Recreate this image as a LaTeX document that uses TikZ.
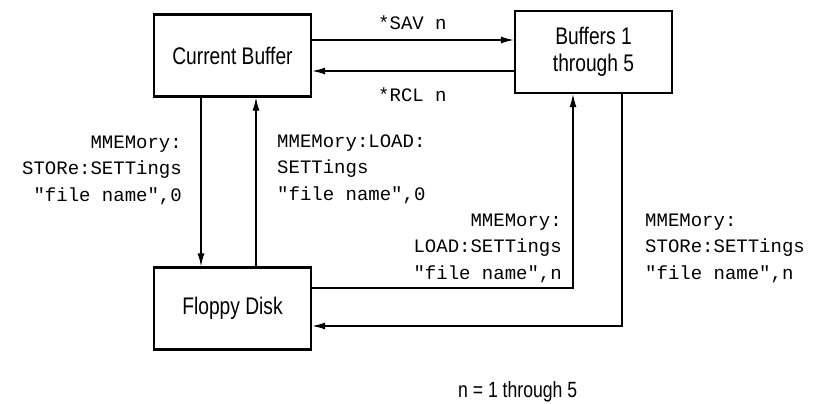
\documentclass[tikz,border=0pt]{standalone}
\usepackage{fontspec}
\usetikzlibrary{arrows.meta}
\newfontfamily\boxfont[FakeStretch=0.8]{Liberation Sans}
\newfontfamily\cmdfont{Liberation Mono}

\begin{document}
\begin{tikzpicture}[x=1pt,y=-1pt,
  box/.style={draw,line width=2.4pt,minimum width=157pt,minimum height=82pt,
    align=center,font={\boxfont\fontsize{24}{27}\selectfont}},
  cmd/.style={inner sep=0pt,font={\cmdfont\fontsize{19}{26.5}\selectfont}},
  flow/.style={line width=1.2pt,-{Latex[length=13pt,width=7pt]}}]
  \useasboundingbox (0,0) rectangle (817,404);
  \node[box] (cur) at (232.5,55.5) {Current Buffer};
  \node[box] (buf) at (593.5,52) {Buffers 1\\through 5};
  \node[box] (disk) at (232.5,308.5) {Floppy Disk};

  \draw[flow] ([yshift=15.5pt]cur.east) -- ([yshift=15.5pt]cur.east -| buf.west);
  \draw[flow] ([yshift=-15.5pt]cur.east -| buf.west) -- ([yshift=-15.5pt]cur.east);
  \draw[flow] ([xshift=-31.5pt]cur.south) -- ([xshift=-31.5pt]cur.south |- disk.north);
  \draw[flow] ([xshift=23.5pt]cur.south |- disk.north) -- ([xshift=23.5pt]cur.south);
  \draw[flow] ([yshift=20.5pt]disk.east) -| ([xshift=-20.5pt]buf.south);
  \draw[flow] ([xshift=28.5pt]buf.south) |- ([yshift=-17.5pt]disk.east);

  \node[cmd,anchor=base west] (sav) at (378,30) {*SAV n};
  \node[cmd,anchor=base west] (rcl) at (378,102) {*RCL n};
  \node[cmd,anchor=base east,align=right] (store0) at (182,201)
    {MMEMory:\\STORe:SETTings\\"file name",0};
  \node[cmd,anchor=base west,align=left] (load0) at (277,200)
    {MMEMory:LOAD:\\SETTings\\"file name",0};
  \node[cmd,anchor=base east,align=right] (loadn) at (562,279)
    {MMEMory:\\LOAD:SETTings\\"file name",n};
  \node[cmd,anchor=base west,align=left] (storen) at (645,279)
    {MMEMory:\\STORe:SETTings\\"file name",n};
  \node[anchor=base west,inner sep=0pt,font={\boxfont\fontsize{22}{27}\selectfont}]
    (note) at (458,397) {n = 1 through 5};
\end{tikzpicture}
\end{document}
